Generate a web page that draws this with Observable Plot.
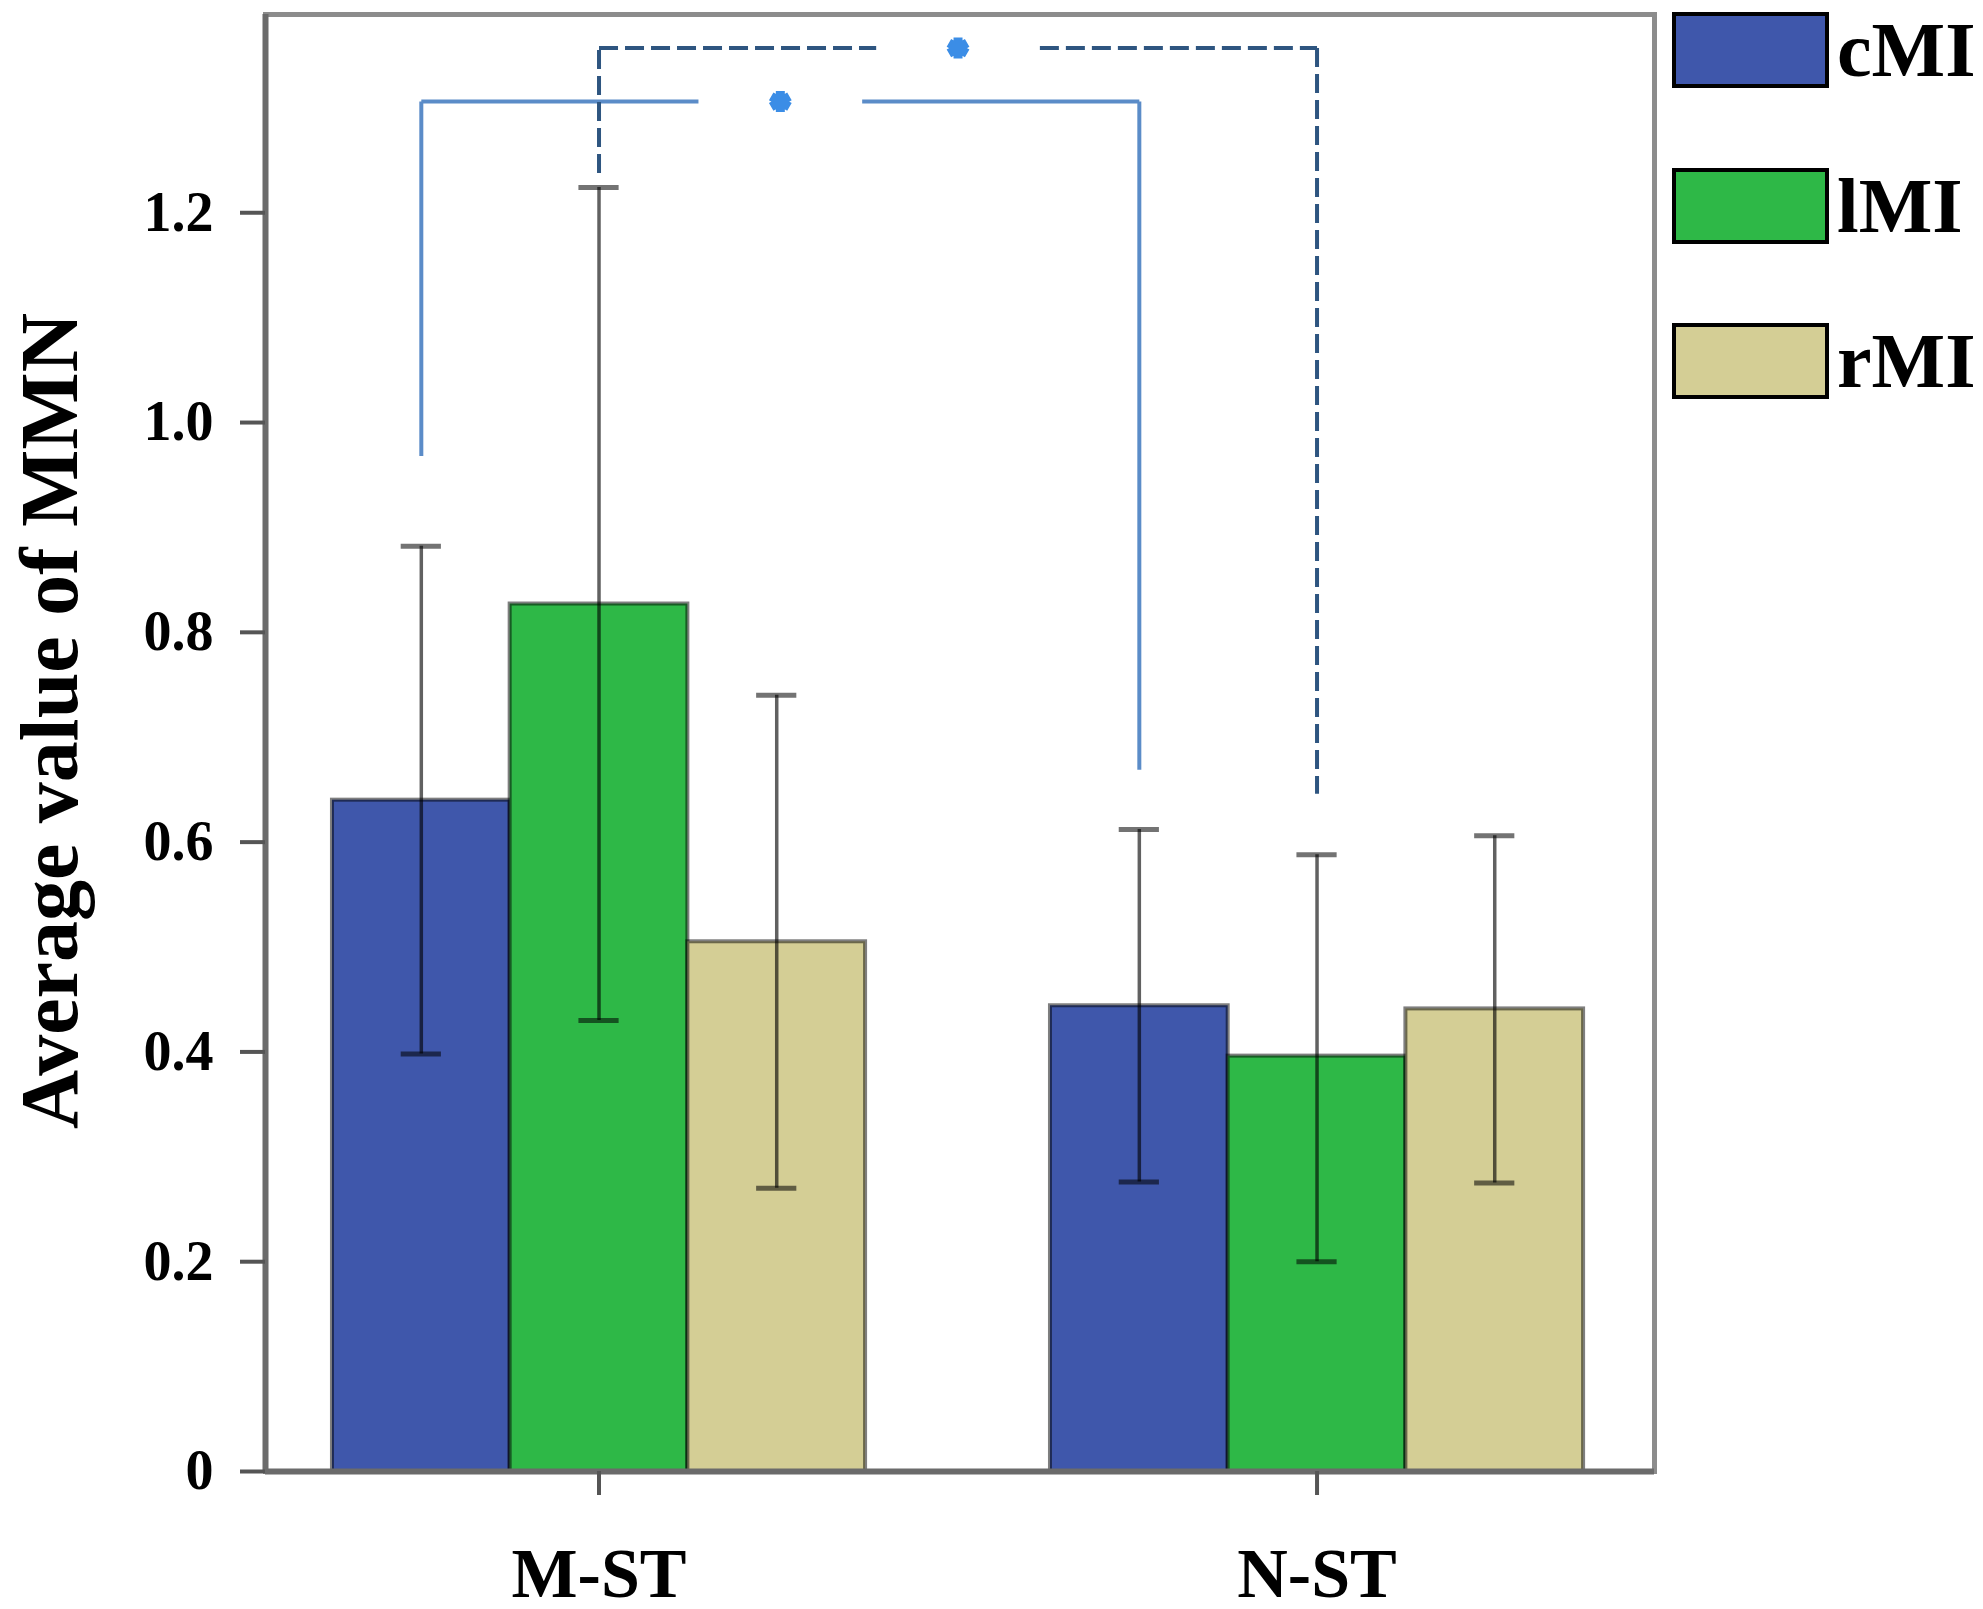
<!DOCTYPE html>
<html>
<head>
<meta charset="utf-8">
<script src="https://cdn.jsdelivr.net/npm/d3@7"></script>
<script src="https://cdn.jsdelivr.net/npm/@observablehq/plot@0.6"></script>
<style>
  html, body { margin: 0; padding: 0; background: #fff; }
  #wrap { position: relative; width: 1983px; height: 1609px; }
  #legend { position: absolute; left: 1672px; top: 12px; font-family: "Liberation Serif", "DejaVu Serif", serif; font-weight: bold; }
  .item { display: flex; align-items: center; height: 76px; margin-bottom: 79.5px; }
  .sw { width: 149px; height: 68px; border: 4px solid #000; box-sizing: content-box; }
  .lab { margin-left: 8px; font-size: 78px; line-height: 76px; color: #000; }
</style>
</head>
<body>
<div id="wrap"><div id="legend"></div></div>
<script>
// ---- data ----
const groups = ["M-ST", "N-ST"];
const series = ["cMI", "lMI", "rMI"];
const colors = ["#3f57ab", "#2eb847", "#d4ce95"];
const meanMST  = [0.640, 0.827, 0.505];
const upperMST = [0.882, 1.224, 0.740];
const lowerMST = [0.398, 0.430, 0.270];
const meanNST  = [0.444, 0.396, 0.441];
const upperNST = [0.612, 0.588, 0.606];
const lowerNST = [0.276, 0.200, 0.275];
const yTicks = [0, 0.2, 0.4, 0.6, 0.8, 1.0, 1.2];
const yLabel = "Average value of MMN";
// significance brackets: connect the same series in M-ST and N-ST
const bracketSeries = ["cMI", "lMI"];
const bracketLevel  = [1.306, 1.357];
const bracketStartY = [0.968, 1.238];
const bracketEndY   = [0.669, 0.646];
const bracketDashed = [false, true];

// ---- layout parameters (scale-space) ----
const xDomain = [-0.4645, 1.47];
const barW = 0.2475;   // bar width in group units
const capW = 0.028;    // half width of error caps
const gapW = 0.114;    // half width of gap around star

const means = [meanMST, meanNST], uppers = [upperMST, upperNST], lowers = [lowerMST, lowerNST];
const bars = [];
groups.forEach((g, gi) => series.forEach((s, si) => bars.push({
  group: g, gi, series: s, si,
  mean: means[gi][si], upper: uppers[gi][si], lower: lowers[gi][si]
})));
const xc = d => d.gi + (d.si - 1) * barW;
const center = (gi, s) => gi + (series.indexOf(s) - 1) * barW;

const brackets = bracketSeries.map((s, i) => {
  const xa = center(0, s), xb = center(1, s), mid = (xa + xb) / 2;
  return {s, xa, xb, mid, level: bracketLevel[i], y0: bracketStartY[i], y1: bracketEndY[i], dashed: bracketDashed[i]};
});
const segs = [];
brackets.forEach(b => {
  segs.push({x1: b.xa, y1: b.y0, x2: b.xa, y2: b.level, dashed: b.dashed});
  segs.push({x1: b.xa, y1: b.level, x2: b.mid - gapW, y2: b.level, dashed: b.dashed});
  segs.push({x1: b.mid + gapW, y1: b.level, x2: b.xb, y2: b.level, dashed: b.dashed});
  segs.push({x1: b.xb, y1: b.level, x2: b.xb, y2: b.y1, dashed: b.dashed});
});
const solidSegs = segs.filter(d => !d.dashed);
const dashSegs = segs.filter(d => d.dashed);

const serif = "'Liberation Serif', 'DejaVu Serif', serif";

const chart = Plot.plot({
  width: 1983,
  height: 1609,
  marginLeft: 265,
  marginRight: 329,
  marginTop: 14,
  marginBottom: 138,
  style: {fontFamily: serif, fontWeight: "bold", background: "#fff", overflow: "visible"},
  x: {type: "linear", domain: xDomain, axis: null},
  y: {domain: [0, 1.389], axis: null},
  color: {domain: series, range: colors},
  marks: [
    Plot.frame({stroke: "#8c8c8c", strokeWidth: 5}),
    Plot.rect(bars, {
      x1: d => xc(d) - barW / 2, x2: d => xc(d) + barW / 2,
      y1: 0, y2: "mean", fill: "series",
      stroke: "#000", strokeOpacity: 0.5, strokeWidth: 4
    }),
    Plot.ruleX(bars, {x: xc, y1: "lower", y2: "upper", stroke: "#000", strokeOpacity: 0.62, strokeWidth: 3.5}),
    Plot.ruleY(bars, {y: "upper", x1: d => xc(d) - capW, x2: d => xc(d) + capW, stroke: "#000", strokeOpacity: 0.55, strokeWidth: 5}),
    Plot.ruleY(bars, {y: "lower", x1: d => xc(d) - capW, x2: d => xc(d) + capW, stroke: "#000", strokeOpacity: 0.55, strokeWidth: 5}),
    Plot.link(solidSegs, {x1: "x1", y1: "y1", x2: "x2", y2: "y2", stroke: "#5b8cc8", strokeWidth: 4}),
    Plot.link(dashSegs, {x1: "x1", y1: "y1", x2: "x2", y2: "y2", stroke: "#2e5580", strokeWidth: 4, strokeDasharray: "19,7"}),
    Plot.dot(brackets, {x: "mid", y: "level", symbol: "asterisk", r: 10, stroke: "#3b8de6", strokeWidth: 9}),
    Plot.ruleY([0], {stroke: "#6b6b6b", strokeWidth: 6}),
    Plot.ruleX([xDomain[0]], {stroke: "#6b6b6b", strokeWidth: 6}),
    Plot.axisY(yTicks, {
      tickSize: 25, tickPadding: 27, tickFormat: d => d === 0 ? "0" : d.toFixed(1),
      fontSize: 56, fontWeight: "bold", fontFamily: serif, fill: "#000",
      stroke: "#555", strokeWidth: 4, label: null
    }),
    Plot.axisX([0, 1], {
      tickSize: 24, tickPadding: 52, tickFormat: d => groups[d],
      fontSize: 70, fontWeight: "bold", fontFamily: serif, fill: "#000",
      stroke: "#555", strokeWidth: 4, label: null
    }),
    Plot.text([yLabel], {
      text: d => d, frameAnchor: "left", rotate: -90, dx: -215, dy: -22,
      fontSize: 82, fontWeight: "bold", fontFamily: serif, fill: "#000",
      textAnchor: "middle", lineAnchor: "middle"
    })
  ]
});
const wrap = document.getElementById("wrap");
wrap.insertBefore(chart, wrap.firstChild);

// legend built from series + colors
const legend = document.getElementById("legend");
series.forEach((s, i) => {
  const it = document.createElement("div");
  it.className = "item";
  const sw = document.createElement("div");
  sw.className = "sw";
  sw.style.background = colors[i];
  const lab = document.createElement("span");
  lab.className = "lab";
  lab.textContent = s;
  it.appendChild(sw); it.appendChild(lab);
  legend.appendChild(it);
});
</script>
</body>
</html>
